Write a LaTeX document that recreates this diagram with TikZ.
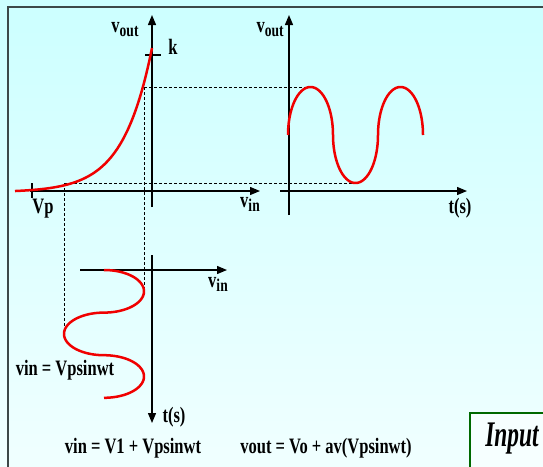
\documentclass[tikz,border=0pt]{standalone}
\usepackage{fontspec}
\setmainfont{Liberation Serif}
\newfontfamily\labfont[FakeStretch=0.75]{Liberation Serif}
\newfontfamily\inpfont[FakeStretch=0.65]{Liberation Serif}
\usetikzlibrary{arrows.meta}
\definecolor{bgtop}{RGB}{204,255,255}
\definecolor{bgbot}{RGB}{240,255,255}
\definecolor{framec}{RGB}{60,72,72}
\definecolor{boxg}{RGB}{0,105,0}
\definecolor{curvec}{RGB}{240,0,0}
\tikzset{
  axisline/.style={line width=1.3pt, -{Triangle[length=10pt,width=8pt]}},
  plainline/.style={line width=1.3pt},
  curveline/.style={curvec, line width=2.5pt, line join=round},
  guide/.style={line width=0.8pt, dash pattern=on 3pt off 2pt},
  lbl/.style={font=\labfont\bfseries\fontsize{22}{26}\selectfont, inner sep=0pt},
  inplbl/.style={font=\inpfont\bfseries\itshape\fontsize{36}{40}\selectfont, inner sep=0pt}
}
\newcommand{\vsub}[1]{v\raisebox{-4pt}{\fontsize{18}{18}\selectfont #1}}
\begin{document}
\begin{tikzpicture}[x=1pt,y=-1pt]
\useasboundingbox (0,0) rectangle (543,466);
\begin{scope}
\clip (0,0) rectangle (543,466);
\shade[top color=bgtop,bottom color=bgbot] (0,0) rectangle (543,466);
\draw[framec, line width=1.5pt] (8,7) rectangle (580,500);

% ---- coordinates
\coordinate (A1b) at (152,207); \coordinate (A1t) at (152,15);
\coordinate (H1l) at (30,191);  \coordinate (H1r) at (260,191);
\coordinate (A2b) at (289,215); \coordinate (A2t) at (289,15);
\coordinate (H2l) at (280,191); \coordinate (H2r) at (467,191);
\coordinate (A3t) at (152,255); \coordinate (A3b) at (152,423);
\coordinate (H3l) at (80,270);  \coordinate (H3r) at (227,270);
\coordinate (Vpt) at (32,183);  \coordinate (Vpb) at (32,198);
\coordinate (kl) at (145,55);   \coordinate (kr) at (161,55);
\coordinate (P1) at (144,87);   \coordinate (P2) at (64,183);
\coordinate (Q1) at (310.5,87); \coordinate (Q2) at (355.5,183);
\coordinate (R1) at (144,291.3); \coordinate (R2) at (64,334.6);

% ---- dashed guides
\draw[guide] (P1) -- (Q1);
\draw[guide] (P2) -- (Q2);
\draw[guide] (P1) -- (R1);
\draw[guide] (P2) -- (R2);

% ---- axes
\draw[axisline] (A1b) -- (A1t);
\draw[axisline] (H1l) -- (H1r);
\draw[axisline] (A2b) -- (A2t);
\draw[axisline] (H2l) -- (H2r);
\draw[axisline] (A3t) -- (A3b);
\draw[axisline] (H3l) -- (H3r);
\draw[plainline] (Vpt) -- (Vpb);
\draw[plainline] (kl) -- (kr);

% ---- curves
\draw[curveline] plot[domain=15:152, samples=80, smooth] (\x, {191 - 24*exp(0.0345*(\x-100)) + 1.3});
\draw[curveline]
  plot[domain=180:360, samples=50, smooth] ({310.5+22.5*cos(\x)}, {135+48*sin(\x)})
  -- plot[domain=0:180, samples=50, smooth] ({355.5-22.5*cos(\x)}, {135+48*sin(\x)})
  -- plot[domain=180:360, samples=50, smooth] ({400.5+22.5*cos(\x)}, {135+48*sin(\x)});
\draw[curveline]
  plot[domain=-90:90, samples=50, smooth] ({104+40*cos(\x)}, {291.3+21.3*sin(\x)})
  -- plot[domain=-90:90, samples=50, smooth] ({104-40*cos(\x)}, {333.9+21.3*sin(\x)})
  -- plot[domain=-90:90, samples=50, smooth] ({104+40*cos(\x)}, {376.5+21.3*sin(\x)});

% ---- labels
\node[lbl] (vout1) at (125,30) {\vsub{out}};
\node[lbl] (vout2) at (270,30) {\vsub{out}};
\node[lbl] (k) at (173,47) {k};
\node[lbl] (Vp) at (43,209) {Vp};
\node[lbl] (vin1) at (250,204) {\vsub{in}};
\node[lbl] (ts1) at (460,208) {t(s)};
\node[lbl] (vin2) at (218,284) {\vsub{in}};
\node[lbl] (ts2) at (174,417) {t(s)};
\node[lbl] (eq1) at (65,370) {vin = Vpsinwt};
\node[lbl] (eq2) at (133,448) {vin = V1 + Vpsinwt};
\node[lbl] (eq3) at (326,448) {vout = Vo + av(Vpsinwt)};

% ---- Input box
\draw[boxg, line width=2pt, fill={rgb,255:red,246;green,255;blue,255}] (470,413) rectangle (600,520);
\node[inplbl] (inp) at (512,439) {Input};
\end{scope}
\end{tikzpicture}
\end{document}
